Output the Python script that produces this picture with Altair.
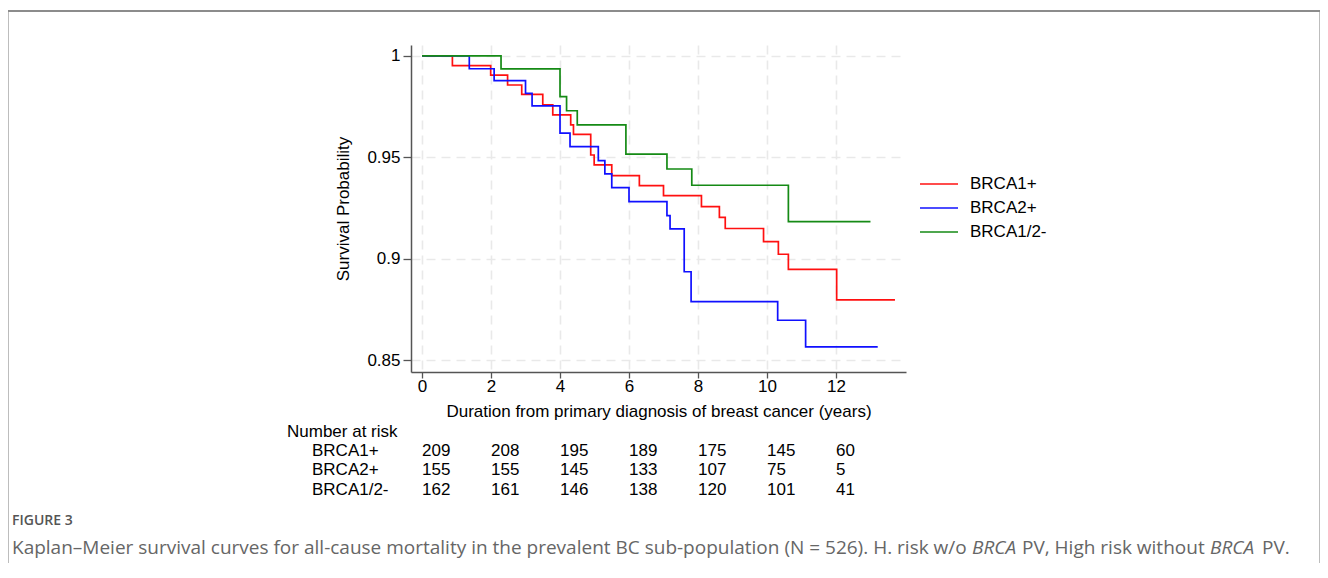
import altair as alt
import pandas as pd

groups = ["BRCA1+", "BRCA2+", "BRCA1/2-"]
colors = ["#ff1010", "#1010ff", "#158a15"]

brca1_t = [0, 0.88, 1.99, 2.48, 2.89, 3.5, 3.79, 4.31, 4.39, 4.89, 4.99, 5.5, 6.3, 7.0,
           8.1, 8.62, 8.79, 9.9, 10.33, 10.62, 12.02, 13.71]
brca1_s = [1.0, 0.9952, 0.9906, 0.9857, 0.9811, 0.9759, 0.971, 0.966, 0.9614, 0.9512,
           0.9463, 0.941, 0.9361, 0.9312, 0.9258, 0.9205, 0.915, 0.9085, 0.9023, 0.8949,
           0.8798, 0.8798]

brca2_t = [0, 1.37, 2.09, 3.0, 3.19, 4.0, 4.29, 5.11, 5.3, 5.5, 6.0, 7.1, 7.19, 7.6, 7.8,
           10.31, 11.12, 13.21]
brca2_s = [1.0, 0.9937, 0.9878, 0.9816, 0.9754, 0.962, 0.9553, 0.9484, 0.9419, 0.9351,
           0.9282, 0.9213, 0.9148, 0.8937, 0.879, 0.8698, 0.8567, 0.8567]

neg_t = [0, 2.29, 4.0, 4.19, 4.5, 5.91, 7.1, 7.82, 10.62, 13.0]
neg_s = [1.0, 0.9936, 0.980, 0.973, 0.966, 0.9516, 0.9443, 0.9363, 0.9184, 0.9184]

risk_times = [0, 2, 4, 6, 8, 10, 12]
risk_brca1 = [209, 208, 195, 189, 175, 145, 60]
risk_brca2 = [155, 155, 145, 133, 107, 75, 5]
risk_neg = [162, 161, 146, 138, 120, 101, 41]

x_ticks = [0, 2, 4, 6, 8, 10, 12]
y_ticks = [0.85, 0.9, 0.95, 1.0]

x_title = "Duration from primary diagnosis of breast cancer (years)"
y_title = "Survival Probability"
risk_header = "Number at risk"
fig_label = "FIGURE 3"
caption_parts = [
    ("Kaplan\u2013Meier survival curves for all-cause mortality in the prevalent BC sub-population (N = 526). H. risk w/o", "normal", -399),
    ("BRCA", "italic", 561),
    ("PV, High risk without", "normal", 611),
    ("BRCA", "italic", 799),
    ("PV.", "normal", 851),
]

W, H = 495, 327
FONT = "Liberation Sans"
FS = 17

rows = []
for g, ts, ss in zip(groups, [brca1_t, brca2_t, neg_t], [brca1_s, brca2_s, neg_s]):
    for i, (t, s) in enumerate(zip(ts, ss)):
        rows.append({"group": g, "time": t, "surv": s, "order": i})
km = pd.DataFrame(rows)

x_scale = alt.Scale(domain=[-0.32, 14.03], nice=False, zero=False)
y_scale = alt.Scale(domain=[0.8443, 1.0054], nice=False, zero=False)
x_axis = alt.Axis(values=x_ticks, title=x_title, grid=True, labelPadding=0, titlePadding=9)
y_axis = alt.Axis(values=y_ticks, format="~g", title=y_title, grid=True, tickSize=8,
                  labelPadding=3, titlePadding=14)
color_scale = alt.Scale(domain=groups, range=colors)

lines = alt.Chart(km).mark_line(interpolate="step-after", strokeWidth=1.7).encode(
    x=alt.X("time:Q", scale=x_scale, axis=x_axis),
    y=alt.Y("surv:Q", scale=y_scale, axis=y_axis),
    color=alt.Color("group:N", scale=color_scale, legend=None),
    order="order:Q",
)

layers = [lines]

# legend
for i, (g, c) in enumerate(zip(groups, colors)):
    ypx = 139 + 24 * i
    d = pd.DataFrame({"label": [g]})
    layers.append(alt.Chart(d).mark_rule(color=c, strokeWidth=1.6).encode(
        x=alt.value(509), x2=alt.value(547), y=alt.value(ypx)))
    layers.append(alt.Chart(d).mark_text(align="left", baseline="middle", fontSize=FS,
                                         font=FONT, color="black").encode(
        x=alt.value(559), y=alt.value(ypx), text="label:N"))

# risk table
layers.append(alt.Chart(pd.DataFrame({"label": [risk_header]})).mark_text(
    align="left", baseline="middle", fontSize=FS, font=FONT, color="black").encode(
    x=alt.value(-124), y=alt.value(387), text="label:N"))
for i, (g, vals) in enumerate(zip(groups, [risk_brca1, risk_brca2, risk_neg])):
    ypx = 406 + 19.4 * i
    layers.append(alt.Chart(pd.DataFrame({"label": [g]})).mark_text(
        align="left", baseline="middle", fontSize=FS, font=FONT, color="black").encode(
        x=alt.value(-99), y=alt.value(ypx), text="label:N"))
    d = pd.DataFrame({"time": risk_times, "n": vals})
    layers.append(alt.Chart(d).mark_text(
        align="left", baseline="middle", fontSize=FS, font=FONT, color="black").encode(
        x=alt.X("time:Q", scale=x_scale, axis=x_axis), y=alt.value(ypx), text="n:Q"))

# figure frame
one = pd.DataFrame({"a": [0]})
layers.append(alt.Chart(one).mark_rule(color="#bdbdbd", strokeWidth=1).encode(
    x=alt.value(-402.5), y=alt.value(-34), y2=alt.value(520)))
layers.append(alt.Chart(one).mark_rule(color="#bdbdbd", strokeWidth=1).encode(
    x=alt.value(908.5), y=alt.value(-34), y2=alt.value(520)))
layers.append(alt.Chart(one).mark_rule(color="#8c8c8c", strokeWidth=2).encode(
    x=alt.value(-403), x2=alt.value(909), y=alt.value(-34)))

# caption
layers.append(alt.Chart(pd.DataFrame({"label": [fig_label]})).mark_text(
    align="left", baseline="middle", fontSize=14, font="Open Sans", fontWeight=600,
    color="#555555").encode(x=alt.value(-399), y=alt.value(476), text="label:N"))
for txt, style, xpx in caption_parts:
    layers.append(alt.Chart(pd.DataFrame({"label": [txt]})).mark_text(
        align="left", baseline="middle", fontSize=19, font="Open Sans", fontStyle=style,
        color="#666666").encode(x=alt.value(xpx), y=alt.value(503), text="label:N"))

chart = alt.layer(*layers).properties(
    width=W, height=H,
    autosize=alt.AutoSizeParams(type="none"),
    padding={"left": 403, "top": 37, "right": 414, "bottom": 191},
).configure(font=FONT).configure_view(strokeWidth=0).configure_axis(
    labelFont=FONT, titleFont=FONT, labelFontSize=FS, titleFontSize=FS,
    labelColor="black", titleColor="black", titleFontWeight="normal",
    domainColor="#555555", domainWidth=1.5, tickColor="#555555", tickWidth=1.3,
    gridColor="#e9e9e9", gridWidth=1.6, gridDash=[9, 6], tickSize=6,
)

chart.save("out.html", embed_options={"renderer": "svg", "actions": False})
